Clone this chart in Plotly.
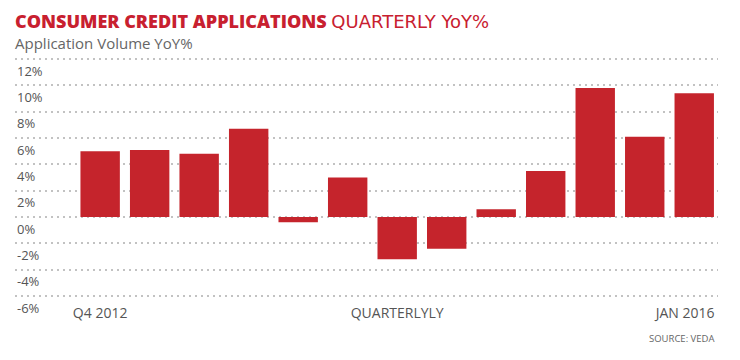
import plotly.graph_objects as go

quarters = ["Q4 2012", "Q1 2013", "Q2 2013", "Q3 2013", "Q4 2013", "Q1 2014", "Q2 2014",
            "Q3 2014", "Q4 2014", "Q1 2015", "Q2 2015", "Q3 2015", "Q4 2015"]
yoy_pct = [5.0, 5.1, 4.8, 6.7, -0.4, 3.0, -3.2, -2.4, 0.6, 3.5, 9.8, 6.1, 9.4]

x_tick_cats = ["Q4 2012", "Q2 2014", "Q4 2015"]
x_tick_text = ["Q4 2012", "QUARTERLYLY", "JAN 2016\u00a0\u00a0\u00a0\u00a0\u00a0"]
y_tick_vals = [-6, -4, -2, 0, 2, 4, 6, 8, 10, 12]
y_tick_text = [f"{v}%" for v in y_tick_vals]

RED = "#c5242c"
GREY_TXT = "#555555"
FONT = "Open Sans"

fig = go.Figure(go.Bar(
    x=quarters, y=yoy_pct,
    marker=dict(color=RED, line=dict(width=0)),
    hoverinfo="x+y",
))

fig.update_layout(
    template="none",
    width=740, height=360,
    margin=dict(l=15, r=22, t=57, b=57, autoexpand=False),
    paper_bgcolor="white", plot_bgcolor="white",
    bargap=0.204,
    showlegend=False,
    font=dict(family=FONT, color=GREY_TXT),
    title=dict(
        text='<span style="font-weight:800">CONSUMER CREDIT APPLICATIONS</span> '
             '<span style="font-family:\'DejaVu Sans\'">QUARTERLY YoY%</span>',
        font=dict(family=FONT, size=18, color="#c8202f"),
        x=15/740, xanchor="left", xref="container",
        y=1 - 21.5/360, yanchor="middle", yref="container",
    ),
    xaxis=dict(
        type="category",
        range=[-1.72, 12.48],
        automargin=False,
        tickmode="array", tickvals=x_tick_cats, ticktext=x_tick_text,
        showgrid=False, showline=False, zeroline=False, ticks="",
        tickfont=dict(family=FONT, size=14, color=GREY_TXT),
    ),
    yaxis=dict(
        range=[-6.52, 12.15],
        automargin=False,
        anchor="free", position=0, side="right",
        tickmode="array", tickvals=y_tick_vals, ticktext=y_tick_text,
        showgrid=True, gridcolor="#c2c2c2", gridwidth=2, griddash="2px,4px",
        zeroline=False, showline=False, ticks="",
        ticklabelshift=12, ticklabelstandoff=1,
        tickfont=dict(family=FONT, size=13, color=GREY_TXT),
    ),
    annotations=[
        dict(text="Application Volume YoY%", xref="paper", yref="paper",
             x=-2/703, y=1 + (57 - 42.5) / 246, xanchor="left", yanchor="middle",
             showarrow=False, font=dict(family=FONT, size=15, color="#666666")),
        dict(text="SOURCE: VEDA", xref="paper", yref="paper",
             x=(716 - 15) / 703, y=-(338.5 - 303) / 246, xanchor="right", yanchor="middle",
             showarrow=False, font=dict(family=FONT, size=9.5, color="#666666")),
    ],
)

fig.write_html("out.html", config={"displayModeBar": False},
               post_script="document.body.style.margin='0';")
